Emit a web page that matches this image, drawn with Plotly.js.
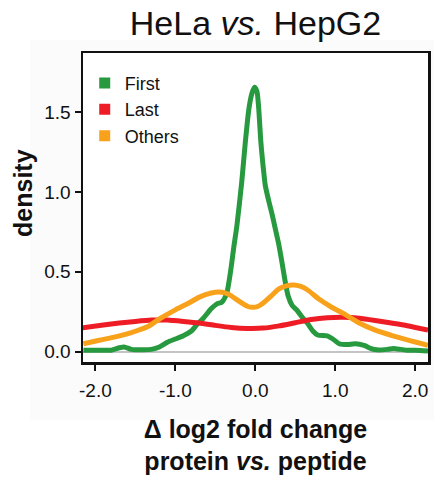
<!DOCTYPE html>
<html>
<head>
<meta charset="utf-8">
<script src="https://cdn.plot.ly/plotly-3.0.1.min.js"></script>
<style>html,body{margin:0;padding:0;background:#fff;}#chart{width:434px;height:484px;}</style>
</head>
<body>
<div id="chart"></div>
<script>
// ---- data ----
var firstX = [-2.15,-1.95,-1.80,-1.70,-1.64,-1.55,-1.40,-1.30,-1.20,-1.10,-1.00,-0.90,-0.80,-0.73,-0.65,-0.55,-0.48,-0.42,-0.36,-0.31,-0.27,-0.23,-0.17,-0.125,-0.08,-0.04,-0.01,0.02,0.04,0.07,0.10,0.125,0.17,0.21,0.25,0.29,0.33,0.37,0.41,0.46,0.52,0.58,0.65,0.72,0.78,0.90,0.97,1.05,1.15,1.25,1.36,1.45,1.52,1.65,1.73,1.82,1.90,2.00,2.16];
var firstY = [0.01,0.01,0.01,0.025,0.03,0.015,0.012,0.015,0.03,0.06,0.08,0.10,0.13,0.17,0.21,0.27,0.30,0.31,0.36,0.50,0.65,0.79,1.06,1.31,1.52,1.62,1.655,1.63,1.54,1.31,1.15,1.04,0.94,0.86,0.77,0.68,0.57,0.45,0.35,0.29,0.26,0.22,0.18,0.13,0.105,0.10,0.08,0.05,0.045,0.05,0.04,0.02,0.012,0.015,0.02,0.015,0.01,0.01,0.005];

var lastX = [-2.16,-1.9,-1.7,-1.5,-1.3,-1.1,-0.9,-0.7,-0.5,-0.3,-0.1,0.1,0.3,0.5,0.7,0.9,1.1,1.3,1.5,1.7,1.9,2.16];
var lastY = [0.15,0.168,0.18,0.19,0.198,0.198,0.19,0.18,0.165,0.152,0.146,0.148,0.162,0.182,0.202,0.213,0.216,0.21,0.196,0.18,0.163,0.136];

var othersX = [-2.15,-1.95,-1.75,-1.55,-1.35,-1.2,-1.0,-0.85,-0.7,-0.55,-0.45,-0.38,-0.3,-0.2,-0.1,-0.03,0.03,0.1,0.2,0.3,0.4,0.48,0.56,0.65,0.8,0.95,1.1,1.3,1.5,1.7,1.9,2.16];
var othersY = [0.05,0.072,0.093,0.12,0.156,0.205,0.262,0.30,0.342,0.368,0.374,0.368,0.35,0.315,0.285,0.278,0.283,0.305,0.35,0.395,0.414,0.418,0.41,0.388,0.328,0.28,0.24,0.18,0.135,0.103,0.074,0.04];

var seriesNames = ["First","Last","Others"];
var seriesColors = ["#27993f","#ee1d25","#f8a11b"];

var xTickVals = [-2,-1,0,1,2];
var xTickText = ["-2.0","-1.0","0.0","1.0","2.0"];
var yTickVals = [0,0.5,1.0,1.5];
var yTickText = ["0.0","0.5","1.0","1.5"];

var FONT = "Liberation Sans, Arial, Helvetica, sans-serif";

var xs = [firstX,lastX,othersX], ys = [firstY,lastY,othersY];
var traces = [];
for (var i = 0; i < 3; i++) {
  traces.push({
    x: xs[i], y: ys[i], type: "scatter", mode: "lines",
    line: {color: seriesColors[i], width: 5, shape: "spline", smoothing: 0.6},
    showlegend: false, hoverinfo: "skip"
  });
}
for (var j = 0; j < 3; j++) {
  traces.push({
    x: [null], y: [null], type: "scatter", mode: "markers", name: seriesNames[j],
    marker: {symbol: "square", size: 11, color: seriesColors[j]}, showlegend: true
  });
}

var layout = {
  width: 434, height: 484,
  margin: {l: 83, r: 6, t: 53, b: 122},
  paper_bgcolor: "#ffffff",
  plot_bgcolor: "#ffffff",
  font: {family: FONT, color: "#111111", size: 19},
  title: {
    text: "HeLa <i>vs.</i> HepG2",
    font: {family: FONT, size: 34, color: "#111111"},
    x: 0.5, xref: "paper", xanchor: "center",
    y: 0.952, yref: "container", yanchor: "middle"
  },
  showlegend: true,
  legend: {
    x: 0.005, y: 0.962, xanchor: "left", yanchor: "top",
    bgcolor: "rgba(0,0,0,0)", borderwidth: 0,
    font: {family: FONT, size: 18, color: "#111111"},
    tracegroupgap: 0, itemclick: false
  },
  xaxis: {
    range: [-2.155, 2.16],
    tickvals: xTickVals, ticktext: xTickText,
    ticks: "outside", ticklen: 6, tickwidth: 2, tickcolor: "#111111",
    ticklabelstandoff: 4,
    showline: true, linecolor: "#111111", linewidth: 2.5, mirror: true,
    showgrid: false, zeroline: false,
    tickfont: {family: FONT, size: 19, color: "#111111"},
    title: {
      text: "<b>Δ log2 fold change<br>protein <i>vs.</i> peptide</b>",
      font: {family: FONT, size: 25, color: "#111111"},
      standoff: 20
    }
  },
  yaxis: {
    range: [-0.064, 1.869],
    tickvals: yTickVals, ticktext: yTickText,
    ticks: "outside", ticklen: 6, tickwidth: 2, tickcolor: "#111111",
    showline: true, linecolor: "#111111", linewidth: 2.5, mirror: true,
    showgrid: false,
    zeroline: true, zerolinecolor: "#c4c4c4", zerolinewidth: 2,
    tickfont: {family: FONT, size: 19, color: "#111111"}
  },
  annotations: [
    {text: "<b>density</b>", xref: "paper", yref: "paper",
     x: -0.174, y: 0.547, xanchor: "center", yanchor: "middle",
     textangle: -90, showarrow: false,
     font: {family: FONT, size: 25, color: "#111111"}}
  ],
  shapes: [
    {type: "rect", xref: "paper", yref: "paper", x0: -0.154, x1: 1.02, y0: -0.188, y1: 1.042,
     fillcolor: "#fbfbfb", line: {width: 0}, layer: "below"},
    {type: "rect", xref: "paper", yref: "paper", x0: 0, x1: 1, y0: 0, y1: 1,
     fillcolor: "#ffffff", line: {width: 0}, layer: "below"}
  ]
};

Plotly.newPlot("chart", traces, layout, {displayModeBar: false, staticPlot: true});
</script>
</body>
</html>
